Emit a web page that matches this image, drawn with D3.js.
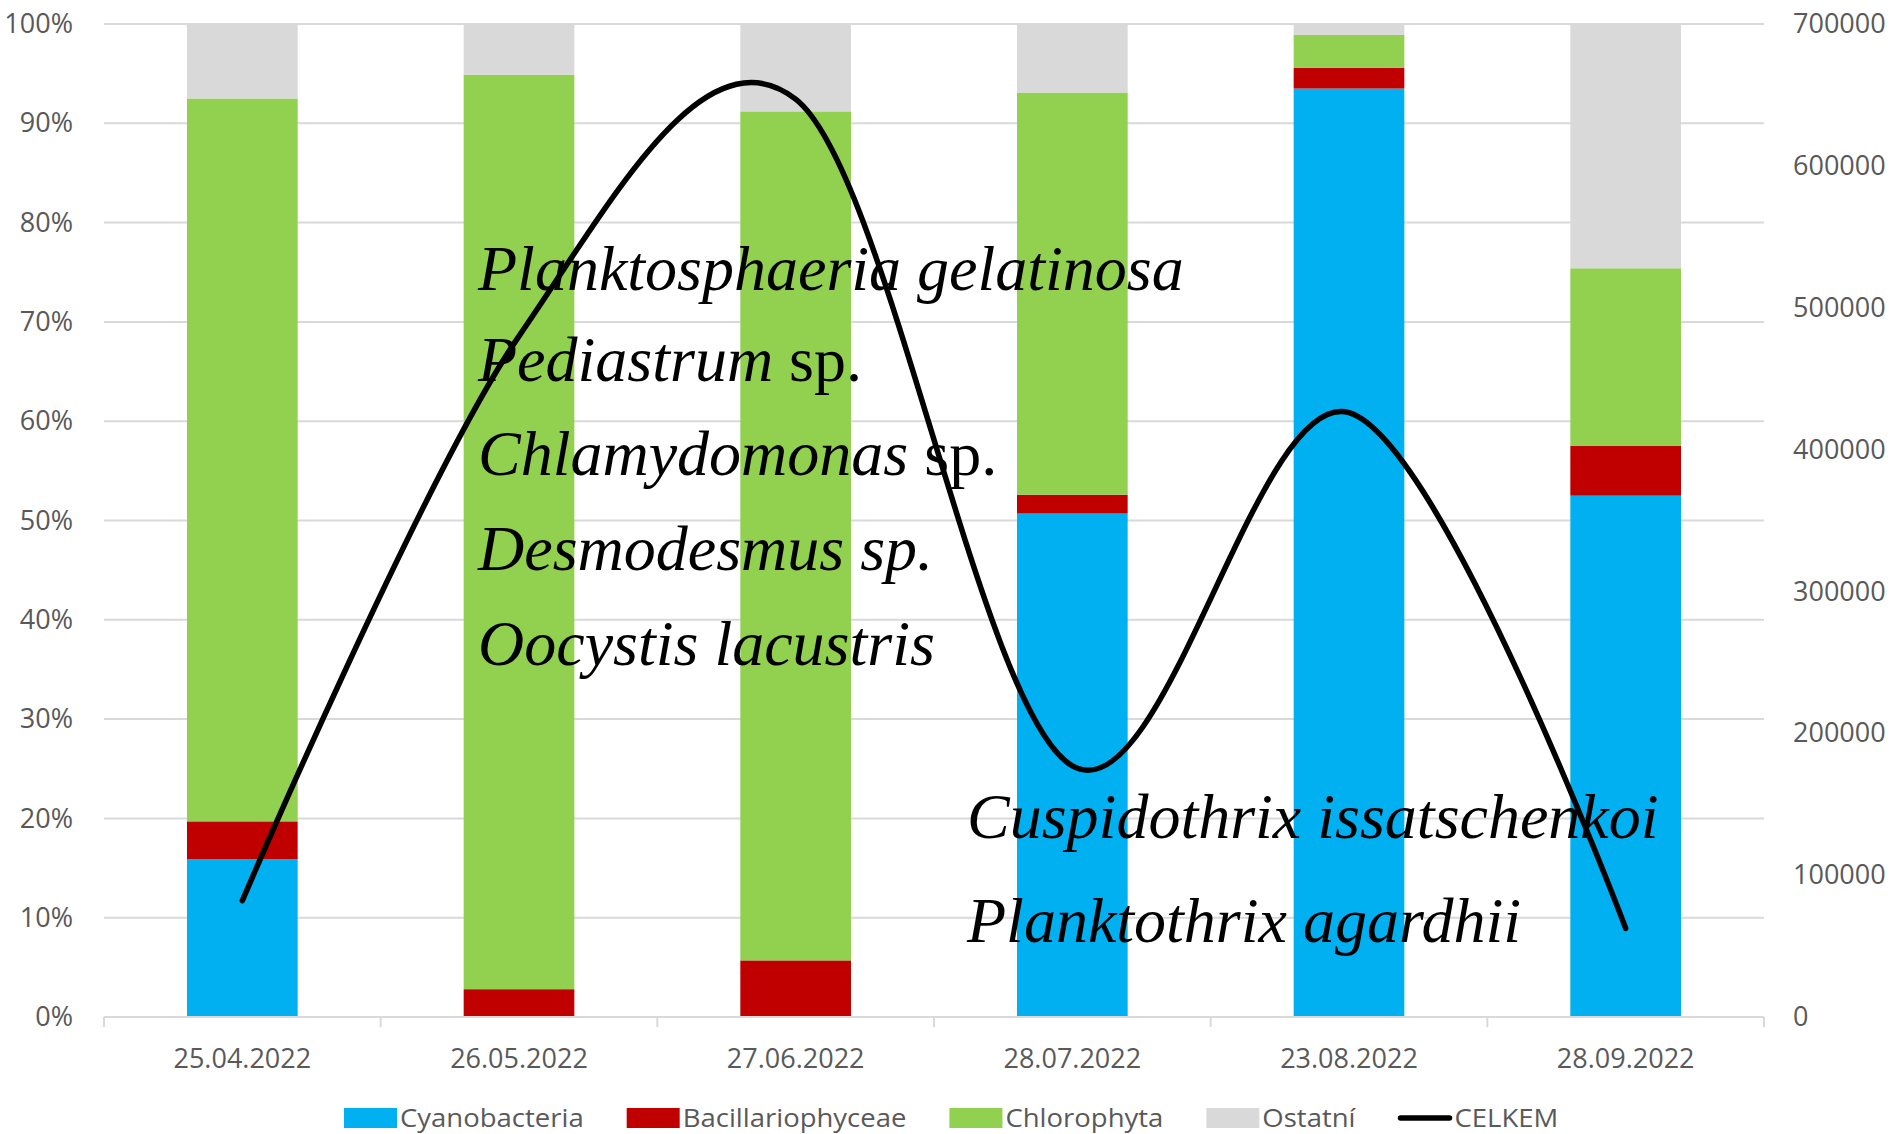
<!DOCTYPE html>
<html>
<head>
<meta charset="utf-8">
<script src="https://cdn.jsdelivr.net/npm/d3@7"></script>
<style>
  html, body { margin: 0; padding: 0; background: #fff; }
  svg { display: block; }
</style>
</head>
<body>
<svg id="chart" width="1893" height="1134"></svg>
<script>
// ---- data ----
const categories = ["25.04.2022", "26.05.2022", "27.06.2022", "28.07.2022", "23.08.2022", "28.09.2022"];
const cyanobacteria = [15.9, 0, 0, 50.7, 93.5, 52.5];
const bacillariophyceae = [3.8, 2.8, 5.7, 1.9, 2.1, 5.0];
const chlorophyta = [72.8, 92.1, 85.5, 40.5, 3.3, 17.9];
const ostatni = [7.5, 5.1, 8.8, 6.9, 1.1, 24.6];
const celkem = [82000, 480000, 647000, 177000, 426000, 62500];
const seriesNames = ["Cyanobacteria", "Bacillariophyceae", "Chlorophyta", "Ostatní"];
const lineName = "CELKEM";
const pctTicks = [0, 10, 20, 30, 40, 50, 60, 70, 80, 90, 100];
const rightTicks = [0, 100000, 200000, 300000, 400000, 500000, 600000, 700000];
const notesGreen = [
  [{t: "Planktosphaeria gelatinosa", i: true}],
  [{t: "Pediastrum", i: true}, {t: " sp.", i: false}],
  [{t: "Chlamydomonas", i: true}, {t: " sp.", i: false}],
  [{t: "Desmodesmus sp.", i: true}],
  [{t: "Oocystis lacustris", i: true}]
];
const notesCyano = [
  [{t: "Cuspidothrix issatschenkoi", i: true}],
  [{t: "Planktothrix agardhii", i: true}]
];

// ---- styles ----
const colors = ["#00B0F0", "#C00000", "#92D050", "#D9D9D9"];
const labelColor = "#595959";
const gridColor = "#D9D9D9";
const sansFont = "'Open Sans', sans-serif";
const serifFont = "'Liberation Serif', 'Times New Roman', serif";

const svg = d3.select("#chart");
const pLeft = 104, pRight = 1764, pTop = 24, pBottom = 1017;

const x = d3.scaleBand().domain(categories).range([pLeft, pRight]).padding(0);
const yPct = d3.scaleLinear().domain([0, 100]).range([pBottom, pTop]);
const yAbs = d3.scaleLinear().domain([0, 700000]).range([pBottom, pTop]);
const barW = x.step() * 0.4;

// gridlines
svg.append("g").selectAll("line").data(pctTicks.filter(d => d > 0)).join("line")
  .attr("x1", pLeft).attr("x2", pRight)
  .attr("y1", d => yPct(d)).attr("y2", d => yPct(d))
  .attr("stroke", gridColor).attr("stroke-width", 2);

// stacked bars
const rows = categories.map((c, i) => ({
  cat: c,
  Cyanobacteria: cyanobacteria[i],
  Bacillariophyceae: bacillariophyceae[i],
  Chlorophyta: chlorophyta[i],
  "Ostatní": ostatni[i]
}));
const stack = d3.stack().keys(seriesNames)(rows);
svg.append("g").selectAll("g").data(stack).join("g")
  .attr("fill", (d, i) => colors[i])
  .selectAll("rect").data(d => d).join("rect")
  .attr("x", d => x(d.data.cat) + x.step() / 2 - barW / 2)
  .attr("width", barW)
  .attr("y", d => yPct(Math.min(100, d[1])))
  .attr("height", d => Math.max(0, yPct(d[0]) - yPct(Math.min(100, d[1]))));

// bottom axis
const xAxisG = svg.append("g");
xAxisG.append("line").attr("x1", pLeft).attr("x2", pRight).attr("y1", pBottom).attr("y2", pBottom)
  .attr("stroke", gridColor).attr("stroke-width", 2);
const boundaries = categories.map(c => x(c)).concat([pRight]);
xAxisG.selectAll("line.tick").data(boundaries).join("line").attr("class", "tick")
  .attr("x1", d => d).attr("x2", d => d).attr("y1", pBottom).attr("y2", pBottom + 10)
  .attr("stroke", gridColor).attr("stroke-width", 2);
xAxisG.selectAll("text").data(categories).join("text")
  .attr("x", d => x(d) + x.step() / 2).attr("y", 1068)
  .attr("text-anchor", "middle").attr("fill", labelColor)
  .style("font-family", sansFont).style("font-size", "27px")
  .text(d => d);

// left axis
const leftAxis = d3.axisLeft(yPct).tickValues(pctTicks).tickSize(0).tickPadding(31)
  .tickFormat(d => d + "%");
const lg = svg.append("g").attr("transform", `translate(${pLeft},0)`).call(leftAxis);
lg.select(".domain").remove();
lg.selectAll("text").attr("fill", labelColor).style("font-family", sansFont).style("font-size", "27px");

// right axis
const rightAxis = d3.axisRight(yAbs).tickValues(rightTicks).tickSize(0).tickPadding(29)
  .tickFormat(d3.format("d"));
const rg = svg.append("g").attr("transform", `translate(${pRight},0)`).call(rightAxis);
rg.select(".domain").remove();
rg.selectAll("text").attr("fill", labelColor).style("font-family", sansFont).style("font-size", "27px");

// line
const line = d3.line()
  .x((d, i) => x(categories[i]) + x.step() / 2)
  .y(d => yAbs(d))
  .curve(d3.curveCatmullRom.alpha(0));
svg.append("path").datum(celkem).attr("d", line)
  .attr("fill", "none").attr("stroke", "#000").attr("stroke-width", 5.5)
  .attr("stroke-linecap", "round").attr("stroke-linejoin", "round");

// annotations
function drawNotes(list, x0, baselines) {
  const g = svg.append("g");
  list.forEach((parts, k) => {
    const t = g.append("text").attr("x", x0).attr("y", baselines[k])
      .attr("fill", "#000").style("font-family", serifFont).style("font-size", "64px");
    parts.forEach(p => t.append("tspan").style("font-style", p.i ? "italic" : "normal").text(p.t));
  });
}
drawNotes(notesGreen, 478, [290, 381, 475, 570, 665]);
drawNotes(notesCyano, 967, [838, 942]);

// legend
const legend = svg.append("g");
let lx = 344;
const ly = 1118;
const sx = 1.1;
const items = seriesNames.map((n, i) => ({name: n, color: colors[i], type: "rect"}))
  .concat([{name: lineName, color: "#000", type: "line"}]);
items.forEach(it => {
  if (it.type === "rect") {
    legend.append("rect").attr("x", lx).attr("y", ly - 10).attr("width", 53).attr("height", 20).attr("fill", it.color);
  } else {
    legend.append("line").attr("x1", lx + 2).attr("x2", lx + 51).attr("y1", ly).attr("y2", ly)
      .attr("stroke", it.color).attr("stroke-width", 5.5).attr("stroke-linecap", "round");
  }
  const tg = legend.append("g").attr("transform", `translate(${lx + 56},${ly}) scale(${sx},1)`);
  const t = tg.append("text").attr("x", 0).attr("y", 0).attr("dy", "0.35em")
    .attr("fill", labelColor).style("font-family", sansFont).style("font-size", "25px").text(it.name);
  lx = lx + 56 + t.node().getComputedTextLength() * sx + 43;
});
</script>
</body>
</html>
